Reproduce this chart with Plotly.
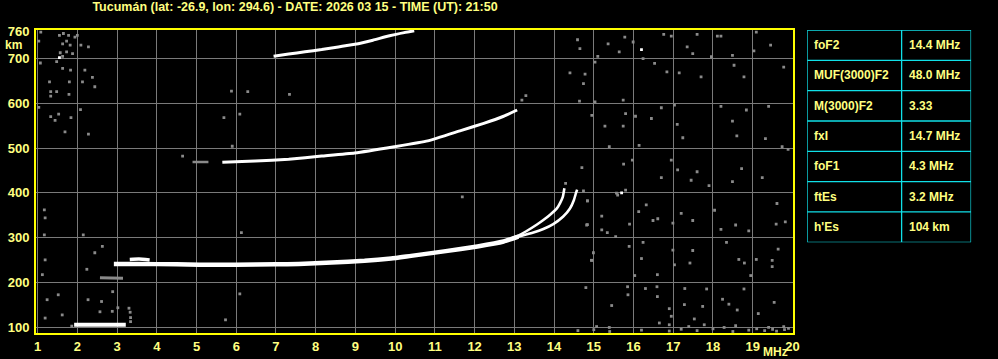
import plotly.graph_objects as go

# ---------------- data (frequency in MHz, virtual height in km) ----------------
# F2 ordinary trace, thick common part
f2_f = [2.92, 3.5, 4.5, 5.07, 6.0, 7.0, 7.57, 8.4, 9.23, 9.9, 10.4, 11.23, 12.07, 12.73, 13.1]
f2_h = [241, 241, 240, 239, 239, 240, 241, 244, 248, 253, 259, 269, 280, 291, 302]
# F1 hump
f1_f = [3.32, 3.55, 3.82]
f1_h = [251, 252, 250]
# O-mode cusp near foF2
o_f = [12.9, 13.07, 13.3, 13.57, 13.73, 13.9, 14.07, 14.15, 14.22, 14.26]
o_h = [297, 303, 314, 329, 339, 351, 365, 377, 391, 410]
# X-mode cusp near fxI
x_f = [12.9, 13.07, 13.48, 13.73, 13.98, 14.23, 14.4, 14.5, 14.55, 14.58]
x_h = [297, 301, 311, 319, 330, 347, 365, 384, 399, 407]
# second hop F2
h2_f = [5.65, 6.48, 7.32, 8.15, 8.98, 9.98, 10.82, 11.65, 12.23, 12.73, 13.07]
h2_h = [468, 471, 475, 482, 489, 503, 516, 539, 555, 571, 585]
h2g_f = [4.9, 5.3]
h2g_h = [469, 469]
# third hop F2
h3_f = [6.94, 7.32, 7.73, 8.15, 8.57, 9.07, 9.44, 9.86, 10.23, 10.48]
h3_h = [705, 710, 715, 720, 726, 733, 741, 751, 758, 762]
# sporadic E and its second hop
es_f = [1.92, 3.22]
es_h = [105, 105]
es2_f = [2.57, 3.15]
es2_h = [210, 209]

# background noise pixels
noise_f = [14.59, 14.65, 15.10, 15.03, 15.36, 15.64, 15.78, 15.99, 16.24, 16.53, 16.76, 16.95, 16.84, 17.15,
           17.35, 17.60, 17.49, 17.70, 17.96, 18.11, 18.20, 18.49, 18.53, 18.78, 19.03, 19.09, 19.45, 19.78,
           14.40, 14.78, 14.74, 14.64, 15.03, 15.74, 15.80, 16.05, 16.45, 16.70, 17.03, 17.10, 17.24, 18.20,
           18.49, 18.60, 18.84, 19.40, 19.32, 19.74, 19.89, 15.39, 16.14, 14.95, 15.28, 15.74, 14.70, 15.97,
           15.75, 16.70, 16.95, 17.11, 17.45, 17.60, 17.90, 18.49, 18.72, 19.24, 15.60, 15.80, 14.84, 15.20,
           15.90, 16.13, 16.32, 16.49, 16.61, 16.99, 17.20, 17.49, 18.04, 18.20, 18.57, 18.90, 19.61, 19.59,
           19.82, 14.95, 14.99, 15.89, 16.24, 16.20, 16.03, 16.60, 17.03, 16.99, 17.42, 17.49, 18.34, 18.65,
           18.79, 18.95, 19.09, 19.49, 19.49, 19.64, 14.80, 15.45, 15.85, 15.86, 16.30, 16.59, 16.60, 16.90,
           16.95, 17.28, 17.29, 17.53, 17.74, 17.84, 18.24, 18.40, 18.61, 18.78, 19.14, 19.54, 15.07, 15.39,
           16.65, 16.90, 17.39, 17.78, 18.28, 18.57, 19.40, 19.78, 14.82, 15.20, 15.34, 15.55, 15.57,
           14.6, 15.0, 15.4, 16.2, 16.9, 17.2, 17.6, 18.0, 18.5, 18.9, 19.1, 19.3, 19.5, 19.6, 19.8, 19.9,
           1.08, 1.55, 1.65, 1.78, 1.94, 2.00, 1.63, 1.82, 1.73, 1.57, 1.73, 1.88, 1.03, 1.63, 2.09, 2.28,
           1.48, 1.63, 1.83, 2.19, 1.07, 1.30, 1.80, 2.13, 2.38, 2.44, 1.33, 1.48, 1.33, 1.79, 1.03, 2.08,
           1.33, 1.53, 1.44, 1.84, 1.69, 2.28,
           1.17, 1.19, 1.17, 1.19, 1.12, 1.24, 1.52, 1.19, 1.62, 2.27, 2.57, 2.89, 3.34, 3.02,
           2.15, 2.44, 2.63, 2.24, 6.13, 6.09, 5.73, 2.61, 3.30, 3.33, 3.34,
           5.88, 6.29, 7.34, 5.69, 6.09, 5.90, 4.65, 13.19, 13.29,
           11.69, 14.84, 14.84, 14.94, 14.74, 14.29, 1.86, 2.88]
noise_h = [742, 722, 705, 692, 733, 715, 748, 737, 700, 689, 754, 750, 670, 668,
           726, 754, 711, 659, 704, 750, 750, 707, 685, 659, 717, 759, 730, 681,
           668, 665, 644, 605, 603, 607, 577, 571, 566, 590, 596, 553, 523, 593,
           560, 527, 585, 593, 521, 503, 497, 503, 506, 573, 549, 549, 456, 473,
           464, 434, 473, 451, 428, 447, 416, 425, 454, 434, 395, 406, 382, 348,
           330, 358, 373, 338, 342, 332, 354, 338, 361, 318, 328, 315, 376, 330,
           335, 249, 266, 280, 289, 253, 215, 217, 239, 272, 243, 271, 289, 251,
           243, 215, 251, 249, 235, 274, 188, 148, 190, 172, 186, 190, 168, 141,
           124, 150, 186, 118, 146, 185, 162, 151, 138, 185, 130, 155, 101, 99,
           109, 105, 101, 105, 99, 103, 99, 101, 328, 317, 311, 302, 399,
           92, 94, 90, 93, 91, 95, 92, 96, 90, 93, 96, 92, 95, 91, 94, 97,
           759, 752, 756, 752, 748, 752, 733, 730, 739, 713, 715, 711, 739, 705, 730, 726,
           693, 678, 674, 674, 690, 648, 648, 648, 658, 637, 626, 626, 616, 620, 591, 586,
           570, 576, 562, 568, 536, 531,
           362, 344, 306, 250, 217, 161, 172, 120, 127, 161, 134, 179, 121, 143,
           306, 266, 280, 229, 311, 174, 116, 157, 142, 133, 112,
           627, 626, 620, 568, 576, 504, 482, 607, 617,
           391, 382, 329, 249, 404, 421, 102, 135]
white_f = [16.20, 1.55, 15.70]
white_h = [720, 702, 400]

x_ticks = list(range(1, 21))
y_ticks = [100, 200, 300, 400, 500, 600, 700, 760]
y_grid = [100, 200, 300, 400, 500, 600, 700]

title_text = "Tucumán (lat: -26.9, lon: 294.6) - DATE: 2026 03 15 - TIME (UT): 21:50"
table_labels = ["foF2", "MUF(3000)F2", "M(3000)F2", "fxI", "foF1", "ftEs", "h'Es"]
table_values = ["14.4 MHz", "48.0 MHz", "3.33", "14.7 MHz", "4.3 MHz", "3.2 MHz", "104 km"]

# ---------------- styles ----------------
YEL = "#FFFF80"
BORDER = "#FFFF00"
GRID = "#7A7A7A"
NOISE = "#8A8A8A"
CYAN = "#10E0E8"
FONT = "Liberation Sans"

fig = go.Figure()


def line(fx, hy, width, color="#FFFFFF"):
    fig.add_trace(go.Scatter(x=fx, y=hy, mode="lines", line=dict(color=color, width=width, shape="spline", smoothing=0.4),
                             hoverinfo="skip", showlegend=False, xaxis="x", yaxis="y"))


fig.add_trace(go.Scatter(x=noise_f, y=noise_h, mode="markers",
                         marker=dict(symbol="square", size=2.8, color=NOISE, line=dict(width=0)),
                         hoverinfo="skip", showlegend=False))
line(h2g_f, h2g_h, 2.5, NOISE)
line(es2_f, es2_h, 3, NOISE)
line(f2_f, f2_h, 4.5)
line(f1_f, f1_h, 3.5)
line(o_f, o_h, 2.6)
line(x_f, x_h, 2.6)
line(h2_f, h2_h, 3)
line(h3_f, h3_h, 3)
line(es_f, es_h, 4)
fig.add_trace(go.Scatter(x=white_f, y=white_h, mode="markers",
                         marker=dict(symbol="square", size=2.8, color="#FFFFFF", line=dict(width=0)),
                         hoverinfo="skip", showlegend=False))

# ---------------- table of parameters ----------------
n = len(table_labels)
for i in range(n + 1):
    fig.add_shape(type="line", xref="x2", yref="y2", x0=0, x1=1, y0=i, y1=i,
                  line=dict(color=CYAN, width=1.3))
for xv in [0, 0.576, 1]:
    fig.add_shape(type="line", xref="x2", yref="y2", x0=xv, x1=xv, y0=0, y1=n,
                  line=dict(color=CYAN, width=1.3))
for i, (lab, val) in enumerate(zip(table_labels, table_values)):
    yc = n - i - 0.5
    fig.add_annotation(x=0.03, y=yc, xref="x2", yref="y2", text=lab, showarrow=False,
                       xanchor="left", yanchor="middle", font=dict(color=YEL, size=12, family=FONT, weight="bold"))
    fig.add_annotation(x=0.61, y=yc, xref="x2", yref="y2", text=val, showarrow=False,
                       xanchor="left", yanchor="middle", font=dict(color=YEL, size=12, family=FONT, weight="bold"))

# ---------------- axis unit labels ----------------
fig.add_annotation(x=(13.5 - 36) / 962, y=(333 - 45) / 303, xref="paper", yref="paper", text="km", showarrow=False,
                   xanchor="center", yanchor="middle", font=dict(color=YEL, size=12, family=FONT, weight="bold"))
fig.add_annotation(x=(780 - 36) / 962, y=(333 - 352) / 303, xref="paper", yref="paper", text="MHz", showarrow=False,
                   xanchor="center", yanchor="middle", font=dict(color=YEL, size=12, family=FONT, weight="bold"))

fig.update_layout(
    width=998, height=359,
    margin=dict(l=36, r=0, t=30, b=26),
    paper_bgcolor="#000000", plot_bgcolor="#000000",
    showlegend=False,
    title=dict(text=title_text, x=295 / 998, xanchor="center", y=1 - 7 / 359, yanchor="middle",
               font=dict(color=YEL, size=12.5, family=FONT, weight="bold")),
    xaxis=dict(domain=[0, 762 / 962], range=[0.96, 20.02], tickvals=x_ticks, ticktext=[str(v) for v in x_ticks],
               showgrid=True, gridcolor=GRID, gridwidth=1, zeroline=False,
               showline=True, linecolor=BORDER, linewidth=2, mirror=True,
               ticks="", ticklen=0,
               tickfont=dict(color=YEL, size=13, family=FONT, weight="bold")),
    yaxis=dict(domain=[0, 1], range=[86.6, 763.8], tickvals=y_ticks, ticktext=[str(v) for v in y_ticks],
               showgrid=False, zeroline=False,
               showline=True, linecolor=BORDER, linewidth=2, mirror=True,
               ticks="outside", ticklen=2, tickcolor="#000000",
               minor=dict(tickvals=y_grid, showgrid=True, gridcolor=GRID, gridwidth=1, ticklen=0),
               tickfont=dict(color=YEL, size=13, family=FONT, weight="bold")),
    xaxis2=dict(domain=[(812 - 36) / 962, (977 - 36) / 962], range=[0, 1], visible=False, anchor="y2"),
    yaxis2=dict(domain=[(333 - 242.3) / 303, 1.0], range=[0, 7], visible=False, anchor="x2"),
)

fig.write_html("out.html")
